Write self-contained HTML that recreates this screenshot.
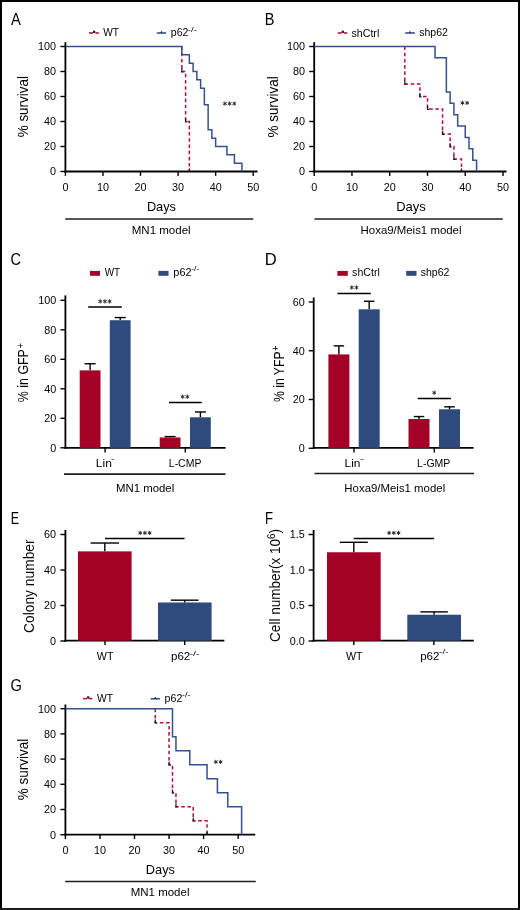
<!DOCTYPE html>
<html><head><meta charset="utf-8"><style>
html,body{margin:0;padding:0;background:#fff;}
body{width:520px;height:910px;overflow:hidden;}
svg{display:block;will-change:transform;}
text{font-family:"Liberation Sans", sans-serif;fill:#000;}
</style></head><body>
<svg width="520" height="910" viewBox="0 0 520 910">
<rect x="0" y="0" width="520" height="910" fill="#fff"/>
<line x1="65.40" y1="42.20" x2="65.40" y2="172.50" stroke="#000" stroke-width="1.8" />
<line x1="60.40" y1="171.50" x2="65.40" y2="171.50" stroke="#000" stroke-width="1.4" />
<text x="56.10" y="175.35" font-size="10.8" text-anchor="end">0</text>
<line x1="60.40" y1="146.50" x2="65.40" y2="146.50" stroke="#000" stroke-width="1.4" />
<text x="56.10" y="150.35" font-size="10.8" text-anchor="end">20</text>
<line x1="60.40" y1="121.50" x2="65.40" y2="121.50" stroke="#000" stroke-width="1.4" />
<text x="56.10" y="125.35" font-size="10.8" text-anchor="end">40</text>
<line x1="60.40" y1="96.50" x2="65.40" y2="96.50" stroke="#000" stroke-width="1.4" />
<text x="56.10" y="100.35" font-size="10.8" text-anchor="end">60</text>
<line x1="60.40" y1="71.50" x2="65.40" y2="71.50" stroke="#000" stroke-width="1.4" />
<text x="56.10" y="75.35" font-size="10.8" text-anchor="end">80</text>
<line x1="60.40" y1="46.50" x2="65.40" y2="46.50" stroke="#000" stroke-width="1.4" />
<text x="56.10" y="50.35" font-size="10.8" text-anchor="end">100</text>
<line x1="64.50" y1="171.50" x2="257.50" y2="171.50" stroke="#000" stroke-width="1.8" />
<line x1="65.40" y1="171.50" x2="65.40" y2="175.90" stroke="#000" stroke-width="1.4" />
<text x="65.40" y="190.90" font-size="10.8" text-anchor="middle">0</text>
<line x1="102.96" y1="171.50" x2="102.96" y2="175.90" stroke="#000" stroke-width="1.4" />
<text x="102.96" y="190.90" font-size="10.8" text-anchor="middle">10</text>
<line x1="140.52" y1="171.50" x2="140.52" y2="175.90" stroke="#000" stroke-width="1.4" />
<text x="140.52" y="190.90" font-size="10.8" text-anchor="middle">20</text>
<line x1="178.08" y1="171.50" x2="178.08" y2="175.90" stroke="#000" stroke-width="1.4" />
<text x="178.08" y="190.90" font-size="10.8" text-anchor="middle">30</text>
<line x1="215.64" y1="171.50" x2="215.64" y2="175.90" stroke="#000" stroke-width="1.4" />
<text x="215.64" y="190.90" font-size="10.8" text-anchor="middle">40</text>
<line x1="253.20" y1="171.50" x2="253.20" y2="175.90" stroke="#000" stroke-width="1.4" />
<text x="253.20" y="190.90" font-size="10.8" text-anchor="middle">50</text>
<path d="M181.84,46.50H181.84V71.50H185.59V121.50H189.35V171.50" fill="none" stroke="#b0103a" stroke-width="1.5" stroke-dasharray="3.6,2.6" stroke-linejoin="miter" stroke-linecap="butt"/>
<path d="M181.84,68.30V71.80H183.44" fill="none" stroke="#1a1a1a" stroke-width="1.2"/>
<path d="M185.59,118.30V121.80H187.19" fill="none" stroke="#1a1a1a" stroke-width="1.2"/>
<path d="M189.35,168.50V171.50" fill="none" stroke="#1a1a1a" stroke-width="1.3"/>
<path d="M65.40,46.50H181.84V54.84H189.35V63.16H193.10V71.50H196.86V79.84H200.62V88.16H204.37V104.84H208.13V129.84H211.88V138.16H215.64V146.50H226.91V154.84H234.42V163.16H241.93V171.50" fill="none" stroke="#34518c" stroke-width="1.5" stroke-linejoin="miter" stroke-linecap="butt"/>
<path d="M224.90,101.50L224.90,105.70M223.08,102.55L226.72,104.65M226.72,102.55L223.08,104.65" stroke="#2a2a2a" stroke-width="1.0" fill="none"/>
<path d="M229.60,101.50L229.60,105.70M227.78,102.55L231.42,104.65M231.42,102.55L227.78,104.65" stroke="#2a2a2a" stroke-width="1.0" fill="none"/>
<path d="M234.30,101.50L234.30,105.70M232.48,102.55L236.12,104.65M236.12,102.55L232.48,104.65" stroke="#2a2a2a" stroke-width="1.0" fill="none"/>
<line x1="314.20" y1="42.20" x2="314.20" y2="172.50" stroke="#000" stroke-width="1.8" />
<line x1="309.20" y1="171.50" x2="314.20" y2="171.50" stroke="#000" stroke-width="1.4" />
<text x="304.90" y="175.35" font-size="10.8" text-anchor="end">0</text>
<line x1="309.20" y1="146.50" x2="314.20" y2="146.50" stroke="#000" stroke-width="1.4" />
<text x="304.90" y="150.35" font-size="10.8" text-anchor="end">20</text>
<line x1="309.20" y1="121.50" x2="314.20" y2="121.50" stroke="#000" stroke-width="1.4" />
<text x="304.90" y="125.35" font-size="10.8" text-anchor="end">40</text>
<line x1="309.20" y1="96.50" x2="314.20" y2="96.50" stroke="#000" stroke-width="1.4" />
<text x="304.90" y="100.35" font-size="10.8" text-anchor="end">60</text>
<line x1="309.20" y1="71.50" x2="314.20" y2="71.50" stroke="#000" stroke-width="1.4" />
<text x="304.90" y="75.35" font-size="10.8" text-anchor="end">80</text>
<line x1="309.20" y1="46.50" x2="314.20" y2="46.50" stroke="#000" stroke-width="1.4" />
<text x="304.90" y="50.35" font-size="10.8" text-anchor="end">100</text>
<line x1="313.30" y1="171.50" x2="506.50" y2="171.50" stroke="#000" stroke-width="1.8" />
<line x1="314.20" y1="171.50" x2="314.20" y2="175.90" stroke="#000" stroke-width="1.4" />
<text x="314.20" y="190.90" font-size="10.8" text-anchor="middle">0</text>
<line x1="351.96" y1="171.50" x2="351.96" y2="175.90" stroke="#000" stroke-width="1.4" />
<text x="351.96" y="190.90" font-size="10.8" text-anchor="middle">10</text>
<line x1="389.72" y1="171.50" x2="389.72" y2="175.90" stroke="#000" stroke-width="1.4" />
<text x="389.72" y="190.90" font-size="10.8" text-anchor="middle">20</text>
<line x1="427.48" y1="171.50" x2="427.48" y2="175.90" stroke="#000" stroke-width="1.4" />
<text x="427.48" y="190.90" font-size="10.8" text-anchor="middle">30</text>
<line x1="465.24" y1="171.50" x2="465.24" y2="175.90" stroke="#000" stroke-width="1.4" />
<text x="465.24" y="190.90" font-size="10.8" text-anchor="middle">40</text>
<line x1="503.00" y1="171.50" x2="503.00" y2="175.90" stroke="#000" stroke-width="1.4" />
<text x="503.00" y="190.90" font-size="10.8" text-anchor="middle">50</text>
<path d="M404.82,46.50H404.82V84.00H419.93V96.50H427.48V109.00H442.58V134.00H450.14V146.50H453.91V159.00H461.46V171.50" fill="none" stroke="#b0103a" stroke-width="1.5" stroke-dasharray="3.6,2.6" stroke-linejoin="miter" stroke-linecap="butt"/>
<path d="M404.82,80.80V84.30H406.42" fill="none" stroke="#1a1a1a" stroke-width="1.2"/>
<path d="M419.93,93.30V96.80H421.53" fill="none" stroke="#1a1a1a" stroke-width="1.2"/>
<path d="M427.48,105.80V109.30H429.08" fill="none" stroke="#1a1a1a" stroke-width="1.2"/>
<path d="M442.58,130.80V134.30H444.18" fill="none" stroke="#1a1a1a" stroke-width="1.2"/>
<path d="M450.14,143.30V146.80H451.74" fill="none" stroke="#1a1a1a" stroke-width="1.2"/>
<path d="M453.91,155.80V159.30H455.51" fill="none" stroke="#1a1a1a" stroke-width="1.2"/>
<path d="M461.46,168.50V171.50" fill="none" stroke="#1a1a1a" stroke-width="1.3"/>
<path d="M314.20,46.50H435.03V57.86H446.36V91.95H450.14V103.31H453.91V114.69H457.69V126.05H465.24V137.41H469.02V148.77H472.79V160.14H476.57V171.50" fill="none" stroke="#34518c" stroke-width="1.5" stroke-linejoin="miter" stroke-linecap="butt"/>
<path d="M462.45,100.80L462.45,105.00M460.63,101.85L464.27,103.95M464.27,101.85L460.63,103.95" stroke="#2a2a2a" stroke-width="1.0" fill="none"/>
<path d="M467.15,100.80L467.15,105.00M465.33,101.85L468.97,103.95M468.97,101.85L465.33,103.95" stroke="#2a2a2a" stroke-width="1.0" fill="none"/>
<line x1="65.40" y1="704.50" x2="65.40" y2="835.70" stroke="#000" stroke-width="1.8" />
<line x1="60.40" y1="834.70" x2="65.40" y2="834.70" stroke="#000" stroke-width="1.4" />
<text x="56.10" y="838.55" font-size="10.8" text-anchor="end">0</text>
<line x1="60.40" y1="809.50" x2="65.40" y2="809.50" stroke="#000" stroke-width="1.4" />
<text x="56.10" y="813.35" font-size="10.8" text-anchor="end">20</text>
<line x1="60.40" y1="784.30" x2="65.40" y2="784.30" stroke="#000" stroke-width="1.4" />
<text x="56.10" y="788.15" font-size="10.8" text-anchor="end">40</text>
<line x1="60.40" y1="759.10" x2="65.40" y2="759.10" stroke="#000" stroke-width="1.4" />
<text x="56.10" y="762.95" font-size="10.8" text-anchor="end">60</text>
<line x1="60.40" y1="733.90" x2="65.40" y2="733.90" stroke="#000" stroke-width="1.4" />
<text x="56.10" y="737.75" font-size="10.8" text-anchor="end">80</text>
<line x1="60.40" y1="708.70" x2="65.40" y2="708.70" stroke="#000" stroke-width="1.4" />
<text x="56.10" y="712.55" font-size="10.8" text-anchor="end">100</text>
<line x1="64.50" y1="834.70" x2="255.30" y2="834.70" stroke="#000" stroke-width="1.8" />
<line x1="65.40" y1="834.70" x2="65.40" y2="839.10" stroke="#000" stroke-width="1.4" />
<text x="65.40" y="854.10" font-size="10.8" text-anchor="middle">0</text>
<line x1="99.95" y1="834.70" x2="99.95" y2="839.10" stroke="#000" stroke-width="1.4" />
<text x="99.95" y="854.10" font-size="10.8" text-anchor="middle">10</text>
<line x1="134.50" y1="834.70" x2="134.50" y2="839.10" stroke="#000" stroke-width="1.4" />
<text x="134.50" y="854.10" font-size="10.8" text-anchor="middle">20</text>
<line x1="169.05" y1="834.70" x2="169.05" y2="839.10" stroke="#000" stroke-width="1.4" />
<text x="169.05" y="854.10" font-size="10.8" text-anchor="middle">30</text>
<line x1="203.60" y1="834.70" x2="203.60" y2="839.10" stroke="#000" stroke-width="1.4" />
<text x="203.60" y="854.10" font-size="10.8" text-anchor="middle">40</text>
<line x1="238.15" y1="834.70" x2="238.15" y2="839.10" stroke="#000" stroke-width="1.4" />
<text x="238.15" y="854.10" font-size="10.8" text-anchor="middle">50</text>
<path d="M155.23,708.70H155.23V722.70H169.05V764.69H172.50V792.70H175.96V806.70H193.24V820.70H207.06V834.70" fill="none" stroke="#b0103a" stroke-width="1.5" stroke-dasharray="3.6,2.6" stroke-linejoin="miter" stroke-linecap="butt"/>
<path d="M155.23,719.50V723.00H156.83" fill="none" stroke="#1a1a1a" stroke-width="1.2"/>
<path d="M169.05,761.49V764.99H170.65" fill="none" stroke="#1a1a1a" stroke-width="1.2"/>
<path d="M172.50,789.50V793.00H174.10" fill="none" stroke="#1a1a1a" stroke-width="1.2"/>
<path d="M175.96,803.50V807.00H177.56" fill="none" stroke="#1a1a1a" stroke-width="1.2"/>
<path d="M193.24,817.50V821.00H194.84" fill="none" stroke="#1a1a1a" stroke-width="1.2"/>
<path d="M207.06,831.70V834.70" fill="none" stroke="#1a1a1a" stroke-width="1.3"/>
<path d="M65.40,708.70H172.50V736.70H175.96V750.70H189.78V764.69H207.06V778.71H217.42V792.70H227.78V806.70H241.61V834.70" fill="none" stroke="#34518c" stroke-width="1.5" stroke-linejoin="miter" stroke-linecap="butt"/>
<path d="M215.85,759.80L215.85,764.00M214.03,760.85L217.67,762.95M217.67,760.85L214.03,762.95" stroke="#2a2a2a" stroke-width="1.0" fill="none"/>
<path d="M220.55,759.80L220.55,764.00M218.73,760.85L222.37,762.95M222.37,760.85L218.73,762.95" stroke="#2a2a2a" stroke-width="1.0" fill="none"/>
<text x="11.08" y="24.80" font-size="16.2" text-anchor="start" textLength="9.84" lengthAdjust="spacingAndGlyphs">A</text>
<text x="264.79" y="24.90" font-size="16.2" text-anchor="start" textLength="9.68" lengthAdjust="spacingAndGlyphs">B</text>
<text x="10.43" y="264.80" font-size="16.2" text-anchor="start" textLength="10.54" lengthAdjust="spacingAndGlyphs">C</text>
<text x="264.73" y="264.90" font-size="16.2" text-anchor="start" textLength="11.97" lengthAdjust="spacingAndGlyphs">D</text>
<text x="10.85" y="523.60" font-size="16.2" text-anchor="start" textLength="8.28" lengthAdjust="spacingAndGlyphs">E</text>
<text x="264.90" y="523.60" font-size="16.2" text-anchor="start" textLength="8.02" lengthAdjust="spacingAndGlyphs">F</text>
<text x="10.42" y="691.20" font-size="16.2" text-anchor="start" textLength="11.44" lengthAdjust="spacingAndGlyphs">G</text>
<text transform="translate(28.30,106.66) rotate(-90)" font-size="14.2" text-anchor="middle" textLength="61.34" lengthAdjust="spacingAndGlyphs">% survival</text>
<text transform="translate(277.60,106.89) rotate(-90)" font-size="14.2" text-anchor="middle" textLength="61.26" lengthAdjust="spacingAndGlyphs">% survival</text>
<text transform="translate(28.20,769.58) rotate(-90)" font-size="14.2" text-anchor="middle" textLength="61.50" lengthAdjust="spacingAndGlyphs">% survival</text>
<text transform="translate(28.20,372.68) rotate(-90)" font-size="14.0" text-anchor="middle" textLength="59.05" lengthAdjust="spacingAndGlyphs">% in GFP<tspan font-size="10.5" dx="0.6" dy="-4.6">+</tspan></text>
<text transform="translate(283.60,373.82) rotate(-90)" font-size="14.0" text-anchor="middle" textLength="56.39" lengthAdjust="spacingAndGlyphs">% in YFP<tspan font-size="10.5" dx="0.6" dy="-4.6">+</tspan></text>
<text transform="translate(34.30,586.18) rotate(-90)" font-size="14.0" text-anchor="middle" textLength="93.42" lengthAdjust="spacingAndGlyphs">Colony number</text>
<text transform="translate(280.30,585.50) rotate(-90)" font-size="14.0" text-anchor="middle" textLength="112.84" lengthAdjust="spacingAndGlyphs">Cell number(x 10<tspan font-size="10" dy="-5">6</tspan><tspan dy="5">)</tspan></text>
<text x="146.88" y="210.60" font-size="13.0" text-anchor="start" textLength="29.14" lengthAdjust="spacingAndGlyphs">Days</text>
<text x="396.13" y="210.60" font-size="13.0" text-anchor="start" textLength="29.62" lengthAdjust="spacingAndGlyphs">Days</text>
<text x="145.82" y="873.80" font-size="13.0" text-anchor="start" textLength="29.17" lengthAdjust="spacingAndGlyphs">Days</text>
<line x1="65.20" y1="219.00" x2="253.20" y2="219.00" stroke="#1e1e1e" stroke-width="1.7" />
<line x1="314.50" y1="219.00" x2="502.80" y2="219.00" stroke="#1e1e1e" stroke-width="1.7" />
<line x1="65.20" y1="881.50" x2="255.80" y2="881.50" stroke="#1e1e1e" stroke-width="1.7" />
<text x="131.72" y="233.50" font-size="11.0" text-anchor="start" textLength="58.95" lengthAdjust="spacingAndGlyphs">MN1 model</text>
<text x="360.58" y="233.60" font-size="11.0" text-anchor="start" textLength="100.90" lengthAdjust="spacingAndGlyphs">Hoxa9/Meis1 model</text>
<text x="130.73" y="896.10" font-size="11.0" text-anchor="start" textLength="58.74" lengthAdjust="spacingAndGlyphs">MN1 model</text>
<line x1="89.00" y1="33.00" x2="93.00" y2="33.00" stroke="#b0103a" stroke-width="1.6" />
<line x1="95.40" y1="33.00" x2="98.80" y2="33.00" stroke="#b0103a" stroke-width="1.6" />
<rect x="93.00" y="30.70" width="2.20" height="2.30" fill="#1a1a1a"/>
<text x="103.19" y="36.00" font-size="10.5" text-anchor="start" textLength="15.75" lengthAdjust="spacingAndGlyphs">WT</text>
<line x1="156.90" y1="33.00" x2="166.20" y2="33.00" stroke="#34518c" stroke-width="1.6" />
<line x1="161.55" y1="31.20" x2="161.55" y2="33.00" stroke="#222" stroke-width="1.2" />
<text x="170.76" y="36.40" font-size="10.5" text-anchor="start" textLength="17.65" lengthAdjust="spacingAndGlyphs">p62</text>
<text x="187.76" y="31.67" font-size="7.2" text-anchor="start" textLength="9.15" lengthAdjust="spacingAndGlyphs">-/-</text>
<line x1="337.70" y1="33.00" x2="341.70" y2="33.00" stroke="#b0103a" stroke-width="1.6" />
<line x1="343.90" y1="33.00" x2="347.30" y2="33.00" stroke="#b0103a" stroke-width="1.6" />
<rect x="341.70" y="30.70" width="2.20" height="2.30" fill="#1a1a1a"/>
<text x="351.43" y="36.50" font-size="10.5" text-anchor="start" textLength="27.87" lengthAdjust="spacingAndGlyphs">shCtrl</text>
<line x1="405.20" y1="33.00" x2="414.80" y2="33.00" stroke="#34518c" stroke-width="1.6" />
<line x1="410.00" y1="31.20" x2="410.00" y2="33.00" stroke="#222" stroke-width="1.2" />
<text x="419.25" y="36.40" font-size="10.5" text-anchor="start" textLength="28.63" lengthAdjust="spacingAndGlyphs">shp62</text>
<line x1="83.10" y1="698.60" x2="87.10" y2="698.60" stroke="#b0103a" stroke-width="1.6" />
<line x1="88.90" y1="698.60" x2="92.30" y2="698.60" stroke="#b0103a" stroke-width="1.6" />
<rect x="87.10" y="696.30" width="2.20" height="2.30" fill="#1a1a1a"/>
<text x="96.90" y="702.25" font-size="10.5" text-anchor="start" textLength="16.06" lengthAdjust="spacingAndGlyphs">WT</text>
<line x1="150.70" y1="698.80" x2="159.90" y2="698.80" stroke="#34518c" stroke-width="1.6" />
<line x1="155.30" y1="697.00" x2="155.30" y2="698.80" stroke="#222" stroke-width="1.2" />
<text x="164.62" y="702.40" font-size="10.5" text-anchor="start" textLength="17.75" lengthAdjust="spacingAndGlyphs">p62</text>
<text x="181.83" y="696.82" font-size="7.2" text-anchor="start" textLength="8.86" lengthAdjust="spacingAndGlyphs">-/-</text>
<line x1="65.40" y1="295.40" x2="65.40" y2="448.80" stroke="#000" stroke-width="1.8" />
<line x1="60.40" y1="447.80" x2="65.40" y2="447.80" stroke="#000" stroke-width="1.4" />
<text x="56.30" y="451.65" font-size="10.8" text-anchor="end">0</text>
<line x1="60.40" y1="418.30" x2="65.40" y2="418.30" stroke="#000" stroke-width="1.4" />
<text x="56.30" y="422.15" font-size="10.8" text-anchor="end">20</text>
<line x1="60.40" y1="388.80" x2="65.40" y2="388.80" stroke="#000" stroke-width="1.4" />
<text x="56.30" y="392.65" font-size="10.8" text-anchor="end">40</text>
<line x1="60.40" y1="359.30" x2="65.40" y2="359.30" stroke="#000" stroke-width="1.4" />
<text x="56.30" y="363.15" font-size="10.8" text-anchor="end">60</text>
<line x1="60.40" y1="329.80" x2="65.40" y2="329.80" stroke="#000" stroke-width="1.4" />
<text x="56.30" y="333.65" font-size="10.8" text-anchor="end">80</text>
<line x1="60.40" y1="300.30" x2="65.40" y2="300.30" stroke="#000" stroke-width="1.4" />
<text x="56.30" y="304.15" font-size="10.8" text-anchor="end">100</text>
<line x1="64.50" y1="447.90" x2="225.50" y2="447.90" stroke="#000" stroke-width="1.8" />
<line x1="90.10" y1="363.73" x2="90.10" y2="370.36" stroke="#000" stroke-width="1.4" />
<line x1="84.60" y1="363.73" x2="95.60" y2="363.73" stroke="#000" stroke-width="1.4" />
<rect x="79.70" y="370.36" width="20.80" height="77.54" fill="#a50026"/>
<line x1="120.20" y1="317.56" x2="120.20" y2="320.21" stroke="#000" stroke-width="1.4" />
<line x1="114.70" y1="317.56" x2="125.70" y2="317.56" stroke="#000" stroke-width="1.4" />
<rect x="109.80" y="320.21" width="20.80" height="127.69" fill="#2f4b7d"/>
<line x1="170.10" y1="436.59" x2="170.10" y2="437.48" stroke="#000" stroke-width="1.4" />
<line x1="164.60" y1="436.59" x2="175.60" y2="436.59" stroke="#000" stroke-width="1.4" />
<rect x="159.70" y="437.48" width="20.80" height="10.42" fill="#a50026"/>
<line x1="200.40" y1="411.96" x2="200.40" y2="417.27" stroke="#000" stroke-width="1.4" />
<line x1="194.90" y1="411.96" x2="205.90" y2="411.96" stroke="#000" stroke-width="1.4" />
<rect x="190.00" y="417.27" width="20.80" height="30.63" fill="#2f4b7d"/>
<line x1="105.10" y1="447.90" x2="105.10" y2="452.60" stroke="#000" stroke-width="1.4" />
<line x1="185.30" y1="447.90" x2="185.30" y2="452.60" stroke="#000" stroke-width="1.4" />
<line x1="88.20" y1="307.00" x2="121.80" y2="307.00" stroke="#000" stroke-width="1.5" />
<path d="M100.20,299.30L100.20,303.50M98.38,300.35L102.02,302.45M102.02,300.35L98.38,302.45" stroke="#2a2a2a" stroke-width="1.0" fill="none"/>
<path d="M104.90,299.30L104.90,303.50M103.08,300.35L106.72,302.45M106.72,300.35L103.08,302.45" stroke="#2a2a2a" stroke-width="1.0" fill="none"/>
<path d="M109.60,299.30L109.60,303.50M107.78,300.35L111.42,302.45M111.42,300.35L107.78,302.45" stroke="#2a2a2a" stroke-width="1.0" fill="none"/>
<line x1="169.00" y1="402.50" x2="201.80" y2="402.50" stroke="#000" stroke-width="1.5" />
<path d="M182.65,394.60L182.65,398.80M180.83,395.65L184.47,397.75M184.47,395.65L180.83,397.75" stroke="#2a2a2a" stroke-width="1.0" fill="none"/>
<path d="M187.35,394.60L187.35,398.80M185.53,395.65L189.17,397.75M189.17,395.65L185.53,397.75" stroke="#2a2a2a" stroke-width="1.0" fill="none"/>
<text x="95.80" y="467.00" font-size="11.0" text-anchor="start" textLength="16.04" lengthAdjust="spacingAndGlyphs">Lin</text>
<text x="111.09" y="460.68" font-size="7.5" text-anchor="start" textLength="3.54" lengthAdjust="spacingAndGlyphs">-</text>
<text x="168.82" y="467.20" font-size="11.0" text-anchor="start" textLength="32.57" lengthAdjust="spacingAndGlyphs">L-CMP</text>
<line x1="64.00" y1="474.20" x2="225.50" y2="474.20" stroke="#1e1e1e" stroke-width="1.7" />
<text x="115.94" y="492.10" font-size="11.0" text-anchor="start" textLength="58.24" lengthAdjust="spacingAndGlyphs">MN1 model</text>
<rect x="90.00" y="270.90" width="10.00" height="4.90" fill="#a50026"/>
<text x="104.74" y="276.30" font-size="10.5" text-anchor="start" textLength="15.42" lengthAdjust="spacingAndGlyphs">WT</text>
<rect x="158.40" y="270.90" width="10.10" height="4.90" fill="#2f4b7d"/>
<text x="173.38" y="276.10" font-size="10.5" text-anchor="start" textLength="18.11" lengthAdjust="spacingAndGlyphs">p62</text>
<text x="191.16" y="270.63" font-size="7.2" text-anchor="start" textLength="8.25" lengthAdjust="spacingAndGlyphs">-/-</text>
<line x1="313.70" y1="297.50" x2="313.70" y2="448.80" stroke="#000" stroke-width="1.8" />
<line x1="308.70" y1="448.25" x2="313.70" y2="448.25" stroke="#000" stroke-width="1.4" />
<text x="304.80" y="452.10" font-size="10.8" text-anchor="end">0</text>
<line x1="308.70" y1="399.50" x2="313.70" y2="399.50" stroke="#000" stroke-width="1.4" />
<text x="304.80" y="403.35" font-size="10.8" text-anchor="end">20</text>
<line x1="308.70" y1="350.75" x2="313.70" y2="350.75" stroke="#000" stroke-width="1.4" />
<text x="304.80" y="354.60" font-size="10.8" text-anchor="end">40</text>
<line x1="308.70" y1="302.00" x2="313.70" y2="302.00" stroke="#000" stroke-width="1.4" />
<text x="304.80" y="305.85" font-size="10.8" text-anchor="end">60</text>
<line x1="312.80" y1="447.90" x2="473.50" y2="447.90" stroke="#000" stroke-width="1.8" />
<line x1="338.90" y1="345.88" x2="338.90" y2="354.41" stroke="#000" stroke-width="1.4" />
<line x1="333.65" y1="345.88" x2="344.15" y2="345.88" stroke="#000" stroke-width="1.4" />
<rect x="328.40" y="354.41" width="21.00" height="93.49" fill="#a50026"/>
<line x1="369.20" y1="301.27" x2="369.20" y2="309.31" stroke="#000" stroke-width="1.4" />
<line x1="363.95" y1="301.27" x2="374.45" y2="301.27" stroke="#000" stroke-width="1.4" />
<rect x="358.70" y="309.31" width="21.00" height="138.59" fill="#2f4b7d"/>
<line x1="419.00" y1="416.56" x2="419.00" y2="419.00" stroke="#000" stroke-width="1.4" />
<line x1="413.75" y1="416.56" x2="424.25" y2="416.56" stroke="#000" stroke-width="1.4" />
<rect x="408.50" y="419.00" width="21.00" height="28.90" fill="#a50026"/>
<line x1="449.50" y1="406.81" x2="449.50" y2="409.25" stroke="#000" stroke-width="1.4" />
<line x1="444.25" y1="406.81" x2="454.75" y2="406.81" stroke="#000" stroke-width="1.4" />
<rect x="439.00" y="409.25" width="21.00" height="38.65" fill="#2f4b7d"/>
<line x1="354.00" y1="447.90" x2="354.00" y2="452.60" stroke="#000" stroke-width="1.4" />
<line x1="434.30" y1="447.90" x2="434.30" y2="452.60" stroke="#000" stroke-width="1.4" />
<line x1="337.40" y1="293.40" x2="370.80" y2="293.40" stroke="#000" stroke-width="1.5" />
<path d="M351.80,285.40L351.80,289.60M349.98,286.45L353.62,288.55M353.62,286.45L349.98,288.55" stroke="#2a2a2a" stroke-width="1.0" fill="none"/>
<path d="M356.50,285.40L356.50,289.60M354.68,286.45L358.32,288.55M358.32,286.45L354.68,288.55" stroke="#2a2a2a" stroke-width="1.0" fill="none"/>
<line x1="417.70" y1="398.60" x2="450.90" y2="398.60" stroke="#000" stroke-width="1.5" />
<path d="M434.20,390.60L434.20,394.80M432.38,391.65L436.02,393.75M436.02,391.65L432.38,393.75" stroke="#2a2a2a" stroke-width="1.0" fill="none"/>
<text x="344.57" y="467.00" font-size="11.0" text-anchor="start" textLength="15.91" lengthAdjust="spacingAndGlyphs">Lin</text>
<text x="360.10" y="460.68" font-size="7.5" text-anchor="start" textLength="3.90" lengthAdjust="spacingAndGlyphs">-</text>
<text x="417.10" y="467.20" font-size="11.0" text-anchor="start" textLength="33.21" lengthAdjust="spacingAndGlyphs">L-GMP</text>
<line x1="314.50" y1="473.50" x2="474.00" y2="473.50" stroke="#1e1e1e" stroke-width="1.7" />
<text x="344.39" y="491.60" font-size="11.0" text-anchor="start" textLength="100.80" lengthAdjust="spacingAndGlyphs">Hoxa9/Meis1 model</text>
<rect x="337.40" y="270.90" width="10.40" height="4.90" fill="#a50026"/>
<text x="352.14" y="276.30" font-size="10.5" text-anchor="start" textLength="27.66" lengthAdjust="spacingAndGlyphs">shCtrl</text>
<rect x="406.20" y="270.90" width="10.30" height="4.90" fill="#2f4b7d"/>
<text x="420.76" y="276.30" font-size="10.5" text-anchor="start" textLength="28.70" lengthAdjust="spacingAndGlyphs">shp62</text>
<line x1="65.40" y1="530.00" x2="65.40" y2="641.60" stroke="#000" stroke-width="1.8" />
<line x1="60.40" y1="641.00" x2="65.40" y2="641.00" stroke="#000" stroke-width="1.4" />
<text x="56.00" y="644.85" font-size="10.8" text-anchor="end">0</text>
<line x1="60.40" y1="605.50" x2="65.40" y2="605.50" stroke="#000" stroke-width="1.4" />
<text x="56.00" y="609.35" font-size="10.8" text-anchor="end">20</text>
<line x1="60.40" y1="570.00" x2="65.40" y2="570.00" stroke="#000" stroke-width="1.4" />
<text x="56.00" y="573.85" font-size="10.8" text-anchor="end">40</text>
<line x1="60.40" y1="534.50" x2="65.40" y2="534.50" stroke="#000" stroke-width="1.4" />
<text x="56.00" y="538.35" font-size="10.8" text-anchor="end">60</text>
<line x1="64.50" y1="640.70" x2="224.40" y2="640.70" stroke="#000" stroke-width="1.8" />
<line x1="104.80" y1="543.02" x2="104.80" y2="551.36" stroke="#000" stroke-width="1.4" />
<line x1="90.60" y1="543.02" x2="119.00" y2="543.02" stroke="#000" stroke-width="1.4" />
<rect x="78.00" y="551.36" width="53.60" height="89.34" fill="#a50026"/>
<line x1="184.70" y1="600.17" x2="184.70" y2="602.48" stroke="#000" stroke-width="1.4" />
<line x1="170.85" y1="600.17" x2="198.55" y2="600.17" stroke="#000" stroke-width="1.4" />
<rect x="158.00" y="602.48" width="53.60" height="38.22" fill="#2f4b7d"/>
<line x1="105.00" y1="640.70" x2="105.00" y2="645.00" stroke="#000" stroke-width="1.4" />
<line x1="184.70" y1="640.70" x2="184.70" y2="645.00" stroke="#000" stroke-width="1.4" />
<line x1="105.00" y1="538.60" x2="184.60" y2="538.60" stroke="#000" stroke-width="1.5" />
<path d="M140.20,530.80L140.20,535.00M138.38,531.85L142.02,533.95M142.02,531.85L138.38,533.95" stroke="#2a2a2a" stroke-width="1.0" fill="none"/>
<path d="M144.90,530.80L144.90,535.00M143.08,531.85L146.72,533.95M146.72,531.85L143.08,533.95" stroke="#2a2a2a" stroke-width="1.0" fill="none"/>
<path d="M149.60,530.80L149.60,535.00M147.78,531.85L151.42,533.95M151.42,531.85L147.78,533.95" stroke="#2a2a2a" stroke-width="1.0" fill="none"/>
<text x="96.80" y="659.70" font-size="11.0" text-anchor="start" textLength="16.75" lengthAdjust="spacingAndGlyphs">WT</text>
<text x="171.03" y="659.80" font-size="11.0" text-anchor="start" textLength="19.25" lengthAdjust="spacingAndGlyphs">p62</text>
<text x="189.44" y="656.23" font-size="7.5" text-anchor="start" textLength="10.06" lengthAdjust="spacingAndGlyphs">-/-</text>
<line x1="313.60" y1="530.00" x2="313.60" y2="641.60" stroke="#000" stroke-width="1.8" />
<line x1="308.60" y1="641.00" x2="313.60" y2="641.00" stroke="#000" stroke-width="1.4" />
<text x="304.80" y="644.85" font-size="10.8" text-anchor="end">0.0</text>
<line x1="308.60" y1="605.50" x2="313.60" y2="605.50" stroke="#000" stroke-width="1.4" />
<text x="304.80" y="609.35" font-size="10.8" text-anchor="end">0.5</text>
<line x1="308.60" y1="570.00" x2="313.60" y2="570.00" stroke="#000" stroke-width="1.4" />
<text x="304.80" y="573.85" font-size="10.8" text-anchor="end">1.0</text>
<line x1="308.60" y1="534.50" x2="313.60" y2="534.50" stroke="#000" stroke-width="1.4" />
<text x="304.80" y="538.35" font-size="10.8" text-anchor="end">1.5</text>
<line x1="312.70" y1="640.70" x2="473.80" y2="640.70" stroke="#000" stroke-width="1.8" />
<line x1="353.80" y1="542.31" x2="353.80" y2="552.25" stroke="#000" stroke-width="1.4" />
<line x1="339.80" y1="542.31" x2="367.80" y2="542.31" stroke="#000" stroke-width="1.4" />
<rect x="327.00" y="552.25" width="53.70" height="88.45" fill="#a50026"/>
<line x1="434.10" y1="611.89" x2="434.10" y2="614.73" stroke="#000" stroke-width="1.4" />
<line x1="420.35" y1="611.89" x2="447.85" y2="611.89" stroke="#000" stroke-width="1.4" />
<rect x="407.30" y="614.73" width="53.70" height="25.97" fill="#2f4b7d"/>
<line x1="353.80" y1="640.70" x2="353.80" y2="645.00" stroke="#000" stroke-width="1.4" />
<line x1="433.90" y1="640.70" x2="433.90" y2="645.00" stroke="#000" stroke-width="1.4" />
<line x1="353.70" y1="538.60" x2="434.00" y2="538.60" stroke="#000" stroke-width="1.5" />
<path d="M389.10,530.80L389.10,535.00M387.28,531.85L390.92,533.95M390.92,531.85L387.28,533.95" stroke="#2a2a2a" stroke-width="1.0" fill="none"/>
<path d="M393.80,530.80L393.80,535.00M391.98,531.85L395.62,533.95M395.62,531.85L391.98,533.95" stroke="#2a2a2a" stroke-width="1.0" fill="none"/>
<path d="M398.50,530.80L398.50,535.00M396.68,531.85L400.32,533.95M400.32,531.85L396.68,533.95" stroke="#2a2a2a" stroke-width="1.0" fill="none"/>
<text x="346.04" y="659.60" font-size="11.0" text-anchor="start" textLength="16.59" lengthAdjust="spacingAndGlyphs">WT</text>
<text x="420.21" y="659.80" font-size="11.0" text-anchor="start" textLength="19.26" lengthAdjust="spacingAndGlyphs">p62</text>
<text x="439.11" y="653.84" font-size="7.5" text-anchor="start" textLength="9.35" lengthAdjust="spacingAndGlyphs">-/-</text>
<rect x="1" y="1" width="518" height="908" fill="none" stroke="#000" stroke-width="2"/>
<rect x="0" y="908" width="520" height="2" fill="#1e1e1e"/>
</svg>
</body></html>
